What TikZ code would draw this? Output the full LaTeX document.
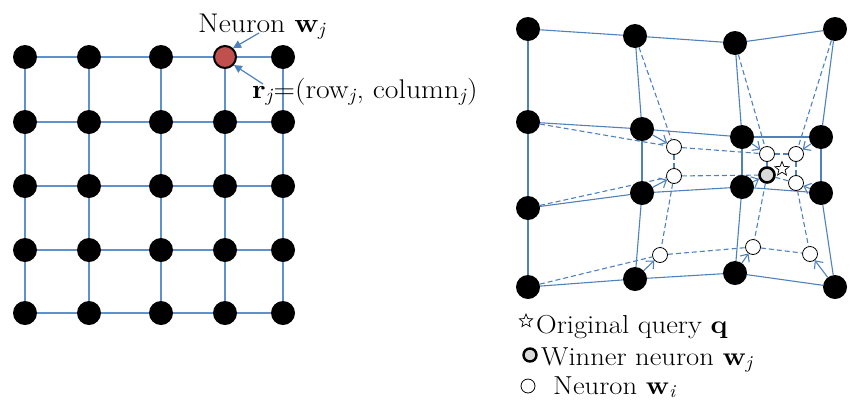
\documentclass[tikz,border=0pt]{standalone}
\usepackage{fontspec}
\setmainfont{Latin Modern Roman}[FakeStretch=1.1]
\usetikzlibrary{shapes.geometric,arrows.meta}
\definecolor{lblue}{RGB}{79,129,189}
\definecolor{llblue}{RGB}{95,145,205}
\definecolor{nred}{RGB}{192,80,77}
\definecolor{wgray}{RGB}{217,217,217}
\pgfdeclarelayer{bg}
\pgfsetlayers{bg,main}
\begin{document}
\begin{tikzpicture}[x=1pt,y=-1pt,
  blk/.style={circle,fill=black,minimum size=24pt,inner sep=0pt},
  redn/.style={circle,fill=nred,draw=black,line width=2pt,minimum size=22pt,inner sep=0pt},
  wht/.style={circle,draw=black,line width=0.8pt,fill=white,minimum size=15pt,inner sep=0pt},
  win/.style={circle,draw=black,line width=2.6pt,fill=wgray,minimum size=15pt,inner sep=0pt},
  qstar/.style={star,star points=5,star point ratio=2.3,draw=black,fill=white,line width=0.7pt,minimum size=15pt,inner sep=0pt},
  lgrid/.style={draw=llblue,line width=1.6pt},
  sgrid/.style={draw=lblue,line width=1.1pt},
  dgrid/.style={draw=lblue,line width=1.1pt,dash pattern=on 5pt off 3pt},
  mv/.style={draw=lblue,line width=1.1pt,-{Straight Barb[length=6pt,width=11pt]}},
  larrow/.style={draw=lblue,line width=1.2pt,-{Triangle[length=8pt,width=8pt]}},
  lbl/.style={font=\fontsize{27}{31}\selectfont,inner sep=0pt,anchor=base west},
  leg/.style={font=\fontsize{26}{30}\selectfont,inner sep=0pt,anchor=base west},
]
\useasboundingbox (0,0) rectangle (851,416);

% ---------- left grid ----------
\foreach \i/\x in {1/25,2/89,3/161,4/225,5/283}{
  \foreach \j/\y in {1/57,2/122,3/186,4/250,5/313}{
    \ifnum\i\j=41
      \node[redn] (L\i\j) at (\x,\y) {};
    \else
      \node[blk] (L\i\j) at (\x,\y) {};
    \fi
  }
}
\begin{pgfonlayer}{bg}
\foreach \i in {1,...,5}{
  \foreach \j [evaluate=\j as \k using int(\j+1)] in {1,...,4}{
    \draw[lgrid] (L\i\j) -- (L\i\k);
    \draw[lgrid] (L\j\i) -- (L\k\i);
  }
}
\end{pgfonlayer}

\node[lbl] (nlab) at (198,32) {Neuron \textbf{w}\textsubscript{\textit{j}}};
\node[lbl] (rlab) at (252,98) {\textbf{r}\textsubscript{\textit{j}}=(row\textsubscript{\textit{j}}, column\textsubscript{\textit{j}})};
\coordinate (a1) at (259,33);
\coordinate (a2) at (263,84);
\draw[larrow] (a1) -- (L41.48);
\draw[larrow] (a2) -- (L41.-42);

% ---------- right grid ----------
\foreach \n/\x/\y in {A1/528/29, A2/635/36, A3/735/43, A4/835/29,
                      B1/528/122, B2/642/129, B3/742/137, B4/821/137,
                      C1/528/208, C2/642/193, C3/742/187, C4/821/193,
                      D1/528/287, D2/635/279, D3/735/273, D4/835/287}{
  \node[blk] (R\n) at (\x,\y) {};
}
\foreach \n/\x/\y in {1/674/147, 2/767/154, 3/796/154, 4/674/176,
                      5/796/183, 6/660/255, 7/753/247, 8/810/254}{
  \node[wht] (W\n) at (\x,\y) {};
}
\node[win] (Wwin) at (767,175) {};
\node[qstar] (Q) at (782,169) {};

\begin{pgfonlayer}{bg}
\foreach \r in {A,B,C,D}{
  \draw[sgrid] (R\r1) -- (R\r2);
  \draw[sgrid] (R\r2) -- (R\r3);
  \draw[sgrid] (R\r3) -- (R\r4);
}
\foreach \c in {1,2,3,4}{
  \draw[sgrid] (RA\c) -- (RB\c);
  \draw[sgrid] (RB\c) -- (RC\c);
  \draw[sgrid] (RC\c) -- (RD\c);
}
% dashed (updated lattice)
\draw[dgrid] (RA2) -- (W1);
\draw[dgrid] (RB1) -- (W1);
\draw[dgrid] (RA3) -- (W2);
\draw[dgrid] (RA4) -- (W3);
\draw[dgrid] (RC1) -- (W4);
\draw[dgrid] (RD1) -- (W6);
\draw[dgrid] (W1) -- (W2);
\draw[dgrid] (W2) -- (W3);
\draw[dgrid] (W4) -- (Wwin);
\draw[dgrid] (Wwin) -- (W5);
\draw[dgrid] (W6) -- (W7);
\draw[dgrid] (W7) -- (W8);
\draw[dgrid] (W1) -- (W4);
\draw[dgrid] (W4) -- (W6);
\draw[dgrid] (W2) -- (Wwin);
\draw[dgrid] (Wwin) -- (W7);
\draw[dgrid] (W3) -- (W5);
\draw[dgrid] (W5) -- (W8);
% movement arrows
\draw[mv] (RB2) -- (W1);
\draw[mv] (RB3) -- (W2);
\draw[mv] (RB4) -- (W3);
\draw[mv] (RC2) -- (W4);
\draw[mv] (RC3) -- (Wwin);
\draw[mv] (RC4) -- (W5);
\draw[mv] (RD2) -- (W6);
\draw[mv] (RD3) -- (W7);
\draw[mv] (RD4) -- (W8);
\end{pgfonlayer}

% ---------- legend ----------
\node[qstar,minimum size=14pt] (lq) at (526,321) {};
\node[leg] (lt1) at (536,333) {Original query \textbf{q}};
\node[win,minimum size=13pt,line width=2.4pt] (lw) at (530,355) {};
\node[leg] (lt2) at (541,365) {Winner neuron \textbf{w}\textsubscript{\textit{j}}};
\node[wht,minimum size=14pt] (ln) at (528,386) {};
\node[leg] (lt3) at (553,394) {Neuron \textbf{w}\textsubscript{\textit{i}}};
\end{tikzpicture}
\end{document}
